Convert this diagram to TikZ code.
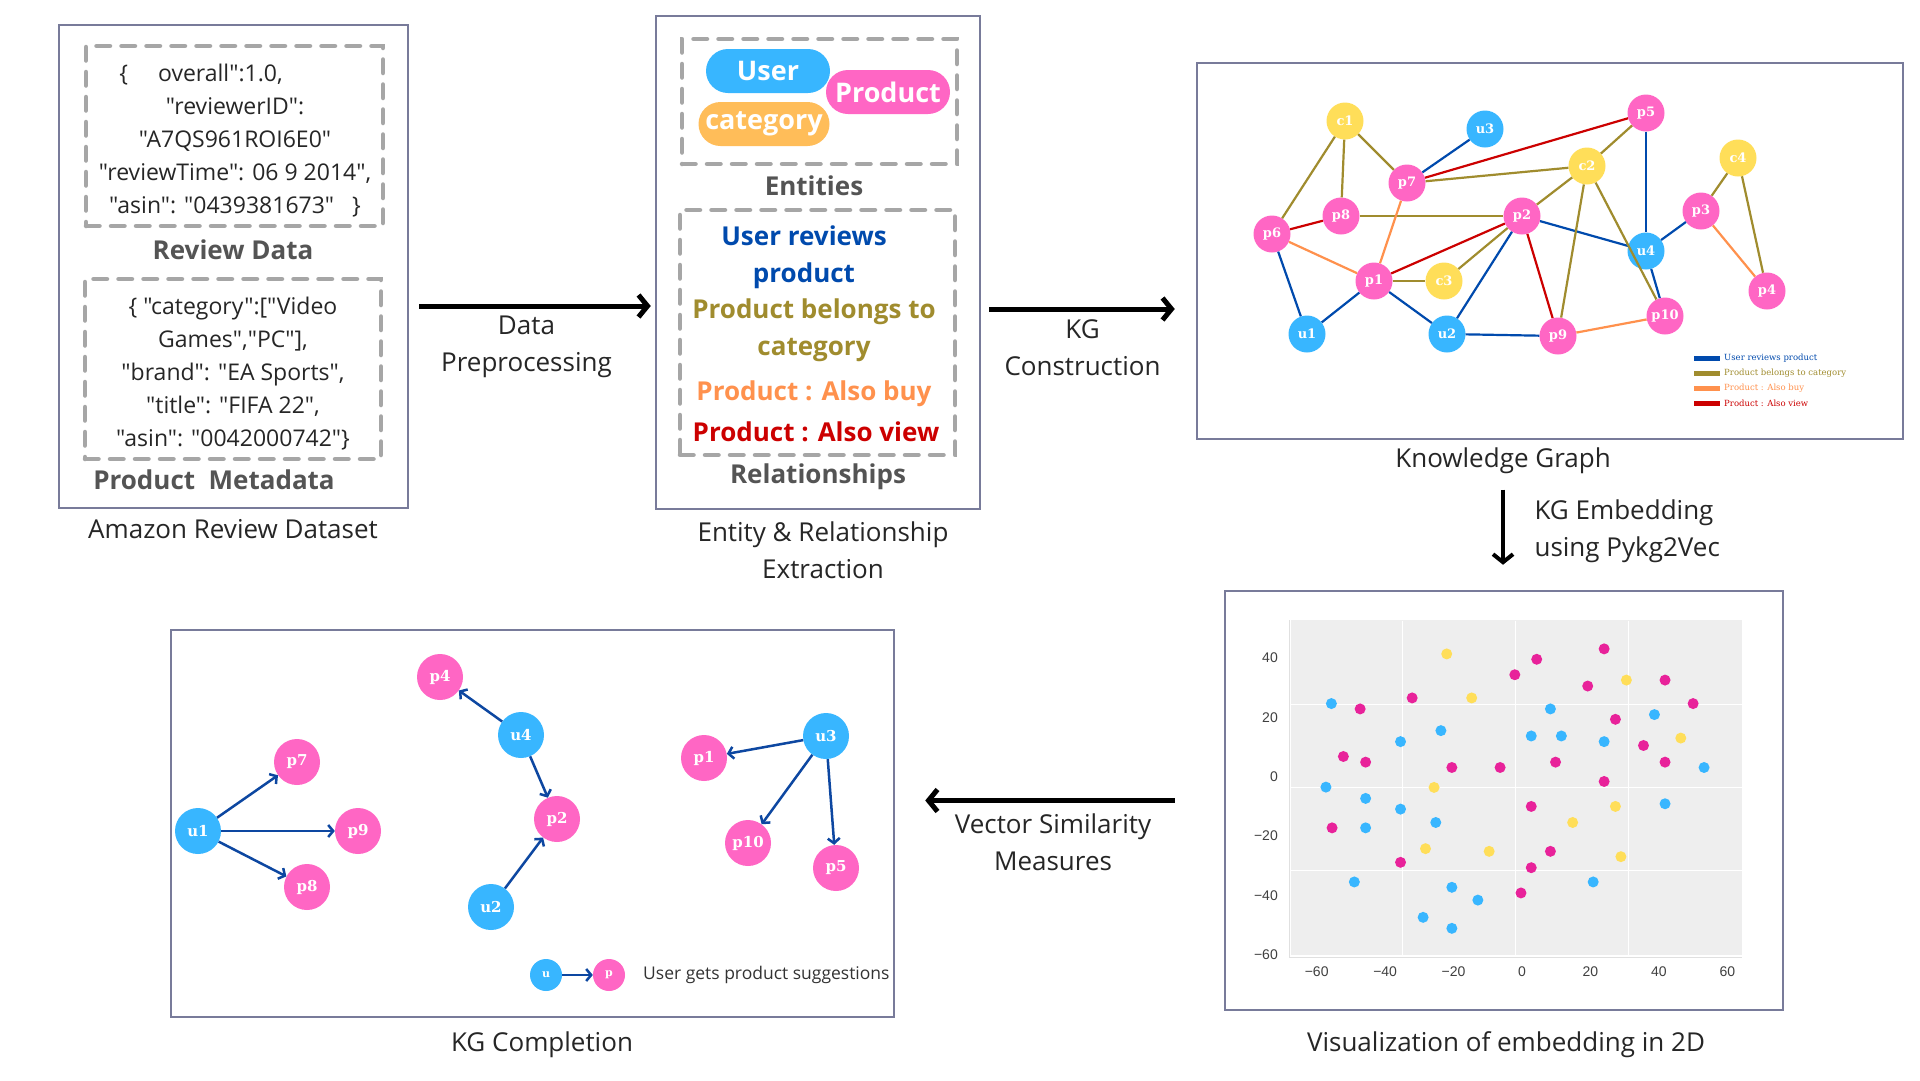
\documentclass[tikz,border=0pt]{standalone}
\usepackage{fontspec}
\setmainfont{Open Sans}[Ligatures=TeXOff]
\newfontfamily\slabfont{DejaVu Serif}
\newfontfamily\tickfont{Liberation Sans}
\usetikzlibrary{arrows.meta,positioning}

\definecolor{ublue}{HTML}{38B6FF}
\definecolor{ppink}{HTML}{FF66C4}
\definecolor{cyel}{HTML}{FFDE59}
\definecolor{corange}{HTML}{FFBD59}
\definecolor{revblue}{HTML}{004AAD}
\definecolor{catolive}{HTML}{A08C2E}
\definecolor{buyor}{HTML}{FF914D}
\definecolor{viewred}{HTML}{CC0000}
\definecolor{framegray}{HTML}{787B9A}
\definecolor{dashgray}{HTML}{A6A6A6}
\definecolor{labgray}{HTML}{545454}
\definecolor{dotpink}{HTML}{E8229A}
\definecolor{plotbg}{HTML}{EEEEEE}
\definecolor{arrblue}{HTML}{0D47A1}

\begin{document}
\begin{tikzpicture}[x=1pt, y=-1pt,
    panel/.style={draw=framegray, line width=2.5pt, inner sep=0pt},
    dashbox/.style={draw=dashgray, line width=4.5pt, dash pattern=on 13.5pt off 11.5pt, line cap=round, inner sep=0pt},
    caption/.style={font=\fontsize{26}{37}\selectfont, text=black!85, align=center},
    json/.style={font=\fontsize{23}{33}\selectfont, text=black!85, align=center},
    heading/.style={font=\fontsize{26}{37}\selectfont\bfseries, text=labgray},
    pill/.style={rounded corners=22pt, minimum height=44pt, inner sep=0pt, text=white, font=\fontsize{27}{30}\selectfont\bfseries},
    reltext/.style={font=\fontsize{26}{37}\selectfont\bfseries, align=center},
    bigarrow/.style={line width=5pt, -{Straight Barb[length=9pt,width=22pt]}},
    kgnode/.style={circle, minimum size=37pt, inner sep=0pt, text=white, font=\slabfont\bfseries\fontsize{13}{13}\selectfont},
    kgu/.style={kgnode, fill=ublue},
    kgp/.style={kgnode, fill=ppink},
    kgc/.style={kgnode, fill=cyel},
    rev/.style={draw=revblue, line width=2.2pt},
    belongs/.style={draw=catolive, line width=2.2pt},
    alsobuy/.style={draw=buyor, line width=2.2pt},
    alsoview/.style={draw=viewred, line width=2.2pt},
    legtxt/.style={font=\slabfont\fontsize{8.5}{10}\selectfont, anchor=west, inner sep=0pt},
    cnode/.style={circle, minimum size=46pt, inner sep=0pt, text=white, font=\slabfont\bfseries\fontsize{15}{15}\selectfont},
    cu/.style={cnode, fill=ublue},
    cp/.style={cnode, fill=ppink},
    sugg/.style={draw=arrblue, line width=2.5pt, -{Straight Barb[length=5pt,width=12pt]}},
    ticklab/.style={font=\tickfont\fontsize{14}{14}\selectfont, text=black!75, inner sep=0pt}]

    \fill[white] (0,0) rectangle (1920,1080);
    \useasboundingbox (0,0) rectangle (1920,1080);

    % Amazon review dataset
    \node[panel, minimum width=349pt, minimum height=483pt] (dataset) at (233.5,266.5) {};
    \node[dashbox, minimum width=297pt, minimum height=180pt] (revbox) at (234.5,136) {};
    \node[json] (revtxt) at (235,140.5) {\{\hspace{30pt}overall":1.0,\rule{68pt}{0pt}\\ "reviewerID":\\ "A7QS961ROI6E0"\\ "reviewTime": 06 9 2014",\\ "asin": "0439381673"\hspace{18pt}\}};
    \node[heading] (revhead) at (233,250) {Review Data};
    \node[dashbox, minimum width=296pt, minimum height=180pt] (metabox) at (233,369) {};
    \node[json] (metatxt) at (233,374) {\{ "category":["Video\\ Games","PC"],\\ "brand": "EA Sports",\\ "title": "FIFA 22",\\ "asin": "0042000742"\}};
    \node[heading] (metahead) at (214,480) {Product\ \ Metadata};
    \node[caption] (datasetcap) at (233,529) {Amazon Review Dataset};

    % Entity and relationship extraction
    \node[panel, minimum width=324pt, minimum height=493pt] (extract) at (818,262.5) {};
    \node[dashbox, minimum width=275pt, minimum height=125pt] (entbox) at (819.5,101.5) {};
    \node[pill, fill=ublue, minimum width=124pt] (user) at (768,71) {User};
    \node[pill, fill=ppink, minimum width=124pt] (product) at (888,92) {Product};
    \node[pill, fill=corange, minimum width=131pt] (category) at (764,124) {category};
    \node[heading] (enthead) at (814,186) {Entities};
    \node[dashbox, minimum width=275pt, minimum height=245pt] (relbox) at (817.5,332.5) {};
    \node[reltext, text=revblue] (relrev) at (804,257.5) {User reviews\\product};
    \node[reltext, text=catolive] (relcat) at (814,330) {Product belongs to\\category};
    \node[reltext, text=buyor] (relbuy) at (814,394) {Product : Also buy};
    \node[reltext, text=viewred] (relview) at (816,432) {Product : Also view};
    \node[heading] (relhead) at (818,477) {Relationships};
    \node[caption] (extractcap) at (823,550) {Entity \& Relationship\\Extraction};

    % Pipeline arrows
    \coordinate (arrowA) at (0,306);
    \coordinate (arrowB) at (0,309);
    \draw[bigarrow, shorten <=10pt, shorten >=4pt] (dataset.east |- arrowA) -- (extract.west |- arrowA);
    \node[caption] (prep) at (526.5,346.5) {Data\\Preprocessing};
    \node[panel, minimum width=706pt, minimum height=376pt] (kg) at (1550,251) {};
    \draw[bigarrow, shorten <=8pt, shorten >=21pt] (extract.east |- arrowB) -- (kg.west |- arrowB);
    \node[caption] (constr) at (1082.5,347.5) {KG\\Construction};

    % Knowledge graph
    \node[kgc] (c1) at (1345,121) {c1};
    \node[kgu] (u3) at (1485,129) {u3};
    \node[kgp] (p5) at (1646,113) {p5};
    \node[kgc] (c2) at (1587,166) {c2};
    \node[kgc] (c4) at (1738,158) {c4};
    \node[kgp] (p7) at (1407,183) {p7};
    \node[kgp] (p8) at (1341,216) {p8};
    \node[kgp] (p2) at (1522,216) {p2};
    \node[kgp] (p3) at (1701,211) {p3};
    \node[kgp] (p6) at (1272,234) {p6};
    \node[kgu] (u4) at (1646,251) {u4};
    \node[kgp] (p1) at (1374,281) {p1};
    \node[kgc] (c3) at (1444,281) {c3};
    \node[kgp] (p4) at (1767,291) {p4};
    \node[kgp] (p10) at (1665,316) {p10};
    \node[kgu] (u1) at (1307,334) {u1};
    \node[kgu] (u2) at (1447,334) {u2};
    \node[kgp] (p9) at (1558,336) {p9};
    \foreach \a/\b in {u3/p7, p5/u4, p6/u1, u1/p1, p1/u2, u2/p2, p2/u4, u4/p10, u4/p3, u2/p9}
        \draw[rev] (\a) -- (\b);
    \foreach \a/\b in {c1/p6, c1/p8, c1/p7, p7/c2, p5/c2, p8/p2, p1/c3, c3/p2, c2/p2, c2/p9, c2/p10, c4/p3, c4/p4}
        \draw[belongs] (\a) -- (\b);
    \foreach \a/\b in {p7/p1, p6/p1, p3/p4, p9/p10}
        \draw[alsobuy] (\a) -- (\b);
    \foreach \a/\b in {p7/p5, p6/p8, p1/p2, p2/p9}
        \draw[alsoview] (\a) -- (\b);

    % Legend
    \node[legtxt, text=revblue] (lg1) at (1724,358) {User reviews product};
    \node[legtxt, text=catolive] (lg2) at (1724,373) {Product belongs to category};
    \node[legtxt, text=buyor] (lg3) at (1724,388) {Product : Also buy};
    \node[legtxt, text=viewred] (lg4) at (1724,403) {Product : Also view};
    \foreach \l/\c in {lg1/revblue, lg2/catolive, lg3/buyor, lg4/viewred}
        \draw[\c, line width=5pt] ([xshift=-30pt]\l.west) -- ([xshift=-4pt]\l.west);
    \node[caption] (kgcap) at (1503,461) {Knowledge Graph};

    % Embedding
    \node[panel, minimum width=558pt, minimum height=419pt] (emb) at (1504,800.5) {};
    \draw[line width=4pt, -{Straight Barb[length=8pt,width=20pt]}, shorten <=12pt, shorten >=25pt] (kgcap.south) -- (kgcap.south |- emb.north);
    \node[caption, align=left, anchor=west] (embtxt) at (1531,531.5) {KG Embedding\\using Pykg2Vec};

    % Scatter plot
    \fill[plotbg] (1291,620) rectangle (1742,955);
    \draw[black!12, line width=1pt] (1289,620) -- (1289,957) -- (1742,957);
    \foreach \g in {-35,-2,31}
        \draw[white, line width=1pt] ({1522+3.422*\g},621) -- ({1522+3.422*\g},955);
    \foreach \g in {24.4,-3.6,-31.7}
        \draw[white, line width=1pt] (1291,{776.7-2.973*\g}) -- (1742,{776.7-2.973*\g});
    \foreach \v/\t in {-60/−60, -40/−40, -20/−20, 0/0, 20/20, 40/40, 60/60}
        \node[ticklab] at ({1522+3.422*\v},972) {\t};
    \foreach \v/\t in {40/40, 20/20, 0/0, -20/−20, -40/−40, -60/−60}
        \node[ticklab, anchor=east] at (1278,{776.7-2.973*\v}) {\t};
    \foreach \a/\b in {-22/41.3, -14.7/26.5, 30.5/32.5, 46.4/13, -25.7/-3.6, 27.3/-10, 14.8/-15.4, -28.2/-24.2, -9.6/-25.1, 28.9/-26.9}
        \fill[cyel] ({1522+3.422*\a},{776.7-2.973*\b}) circle[radius=5.5];
    \foreach \a/\b in {24/43, 4.3/39.5, -2.1/34.3, 19.2/30.5, 41.8/32.5, 50/24.6, -32.1/26.5, -47.3/22.8, 27.3/19.3, 35.5/10.5, -52.2/6.8, -45.7/4.9, -20.5/3.1, -6.4/3.1, 9.8/4.9, 41.8/4.9, 24/-1.6, 2.7/-10, -55.5/-17.2, 8.3/-25.1, -35.5/-28.8, 2.7/-30.6, -0.3/-39.1}
        \fill[dotpink] ({1522+3.422*\a},{776.7-2.973*\b}) circle[radius=5.5];
    \foreach \a/\b in {-55.7/24.6, 8.3/22.8, 38.7/20.9, -23.7/15.5, -35.5/11.8, 2.7/13.7, 11.5/13.7, 24/11.8, 53.2/3.1, -57.3/-3.5, -45.7/-7.3, -35.5/-10.9, 41.8/-9.1, -25.2/-15.4, -45.7/-17.2, -49/-35.4, 20.8/-35.4, -20.5/-37.2, -12.9/-41.5, -28.9/-47.3, -20.5/-51}
        \fill[ublue] ({1522+3.422*\a},{776.7-2.973*\b}) circle[radius=5.5];
    \node[caption] (embcap) at (1506,1045) {Visualization of embedding in 2D};

    % KG completion
    \node[panel, minimum width=723pt, minimum height=387pt] (comp) at (532.5,823.5) {};
    \draw[bigarrow, shorten <=49pt, shorten >=30pt] (emb.west) -- (emb.west -| comp.east);
    \node[caption] (simtxt) at (1053,842.5) {Vector Similarity\\Measures};
    \node[cu] (cu1) at (198,831) {u1};
    \node[cp] (cp7) at (297,762) {p7};
    \node[cp] (cp9) at (358,831) {p9};
    \node[cp] (cp8) at (307,887) {p8};
    \node[cp] (cp4) at (440,677) {p4};
    \node[cu] (cu4) at (521,735) {u4};
    \node[cp] (cp2) at (557,819) {p2};
    \node[cu] (cu2) at (491,907) {u2};
    \node[cu] (cu3) at (826,736) {u3};
    \node[cp] (cp1) at (704,758) {p1};
    \node[cp] (cp10) at (748,843) {p10};
    \node[cp] (cp5) at (836,868) {p5};
    \foreach \a/\b in {cu1/cp7, cu1/cp9, cu1/cp8, cu4/cp4, cu4/cp2, cu2/cp2, cu3/cp1, cu3/cp10, cu3/cp5}
        \draw[sugg] (\a) -- (\b);
    \node[cnode, fill=ublue, minimum size=32pt, font=\slabfont\bfseries\fontsize{11}{11}\selectfont] (lu) at (546,975) {u};
    \node[cnode, fill=ppink, minimum size=32pt, font=\slabfont\bfseries\fontsize{11}{11}\selectfont] (lp) at (609,975) {p};
    \draw[sugg] (lu) -- (lp);
    \node[font=\fontsize{17.5}{20}\selectfont, text=black!80, anchor=west, inner sep=0pt] (lgtxt) at (643,975) {User gets product suggestions};
    \node[caption] (compcap) at (542,1045) {KG Completion};
\end{tikzpicture}
\end{document}
